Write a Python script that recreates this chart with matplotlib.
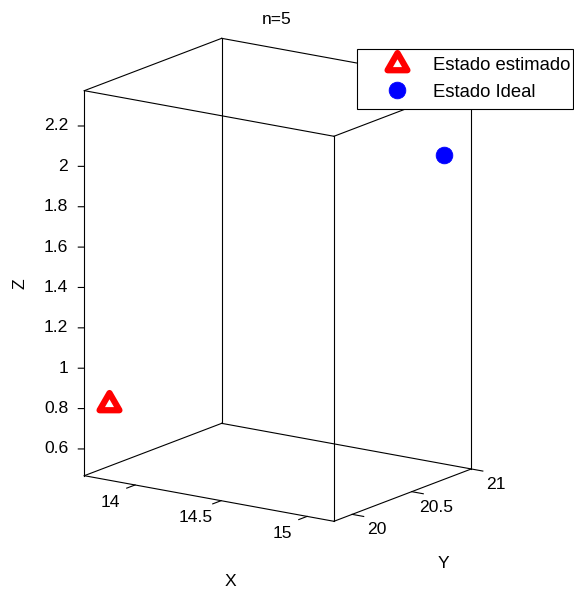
import numpy as np
import matplotlib
matplotlib.use('Agg')
import matplotlib.pyplot as plt
from mpl_toolkits.mplot3d import proj3d
from matplotlib.path import Path
from matplotlib.markers import MarkerStyle

plt.rcParams['font.family'] = ['Liberation Sans', 'DejaVu Sans']

# ---------------- data ----------------
title = 'n=5'
series_names = ['Estado estimado', 'Estado Ideal']
est_x, est_y, est_z = [13.78], [19.95], [0.81]
ideal_x, ideal_y, ideal_z = [15.0], [21.0], [2.0]
xlim = (13.705, 15.156)
ylim = (19.847, 21.0)
zlim = (0.4675, 2.375)
xticks = [14, 14.5, 15]
yticks = [20, 20.5, 21]
zticks = [0.6, 0.8, 1, 1.2, 1.4, 1.6, 1.8, 2, 2.2]
xticklabels = ['14', '14.5', '15']
yticklabels = ['20', '20.5', '21']
zticklabels = ['0.6', '0.8', '1', '1.2', '1.4', '1.6', '1.8', '2', '2.2']
xlabel, ylabel, zlabel = 'X', 'Y', 'Z'

# ---------------- figure ----------------
W, H = 574, 593
fig = plt.figure(figsize=(W / 100, H / 100), dpi=100)
fig.patch.set_facecolor('white')
ax = fig.add_axes([0.1, 0.1, 0.8, 0.8], projection='3d', computed_zorder=False)
ax.set_proj_type('ortho')
ax.view_init(elev=15.3, azim=-55.3)
ax.set_xlim(xlim)
ax.set_ylim(ylim)
ax.set_zlim(zlim)
ax.set_box_aspect((xlim[1] - xlim[0], ylim[1] - ylim[0], zlim[1] - zlim[0]))
ax.set_axis_off()

# --- calibrate the axes placement so the box corners land where the reference has them
corners = np.array([
    [xlim[0], ylim[0], zlim[0]],
    [xlim[0], ylim[0], zlim[1]],
    [xlim[1], ylim[0], zlim[0]],
    [xlim[1], ylim[1], zlim[0]],
    [xlim[0], ylim[1], zlim[0]],
    [xlim[0], ylim[1], zlim[1]],
])
targets_img = np.array([
    [84.3, 475.0], [84.3, 89.0], [333.5, 521.0],
    [470.5, 469.3], [222.3, 425.0], [222.3, 39.0]])
targets = np.column_stack([targets_img[:, 0], H - targets_img[:, 1]])


def proj2d(pts):
    pts = np.atleast_2d(np.asarray(pts, dtype=float))
    xs, ys, _ = proj3d.proj_transform(pts[:, 0], pts[:, 1], pts[:, 2], ax.get_proj())
    return np.column_stack([xs, ys])


for _ in range(3):
    fig.canvas.draw()
    bb = ax.get_window_extent()
    c0 = np.array([bb.x0 + bb.width / 2, bb.y0 + bb.height / 2])
    S0 = bb.width
    u = (ax.transData.transform(proj2d(corners)) - c0) / S0
    n = len(u)
    A = np.zeros((2 * n, 3))
    b = np.zeros(2 * n)
    A[0::2, 0] = 1
    A[0::2, 2] = u[:, 0]
    A[1::2, 1] = 1
    A[1::2, 2] = u[:, 1]
    b[0::2] = targets[:, 0]
    b[1::2] = targets[:, 1]
    cx, cy, S = np.linalg.lstsq(A, b, rcond=None)[0]
    ax.set_position([(cx - S / 2) / W, (cy - S / 2) / H, S / W, S / H])
fig.canvas.draw()

# ---------------- box edges ----------------
lk = dict(color='black', lw=0.8, clip_on=False)
X0, X1 = xlim
Y0, Y1 = ylim
Z0, Z1 = zlim
for z in (Z0, Z1):
    ax.plot([X0, X1], [Y0, Y0], [z, z], **lk)
    ax.plot([X1, X1], [Y0, Y1], [z, z], **lk)
    ax.plot([X1, X0], [Y1, Y1], [z, z], **lk)
    ax.plot([X0, X0], [Y1, Y0], [z, z], **lk)
for x, y in ((X0, Y0), (X1, Y0), (X1, Y1), (X0, Y1)):
    ax.plot([x, x], [y, y], [Z0, Z1], **lk)

# ---------------- ticks ----------------
fs = 12.6


def label_at(x, y, z, s, **kw):
    p = proj2d([[x, y, z]])[0]
    ax.text2D(p[0], p[1], s, transform=ax.transData, fontsize=fs, clip_on=False, **kw)


for t, lab in zip(xticks, xticklabels):
    ax.plot([t, t], [Y0, Y0 - 0.07], [Z0, Z0], **lk)
    label_at(t, Y0 - 0.21, Z0 - 0.038, lab, ha='center', va='center')
for t, lab in zip(yticks, yticklabels):
    ax.plot([X1, X1 + 0.067], [t, t], [Z0, Z0], **lk)
    label_at(X1 + 0.141, t, Z0 - 0.055, lab, ha='center', va='center')
for t, lab in zip(zticks, zticklabels):
    ax.plot([X0, X0 - 0.0236], [Y0, Y0 - 0.0164], [t, t], **lk)
    label_at(X0 - 0.063, Y0 - 0.0437, t, lab, ha='right', va='center')

# ---------------- data markers ----------------
tri = Path([(0, 1), (-0.866, -0.5), (0.866, -0.5), (0, 1)],
           [Path.MOVETO, Path.LINETO, Path.LINETO, Path.CLOSEPOLY])
tri_marker = MarkerStyle(tri, joinstyle='miter')
h_est, = ax.plot(est_x, est_y, est_z, linestyle='none', marker=tri_marker,
                 markersize=16.5, markeredgewidth=4.5, markeredgecolor='#ff0000',
                 markerfacecolor='white', clip_on=False, label=series_names[0])
h_ideal, = ax.plot(ideal_x, ideal_y, ideal_z, linestyle='none', marker='o',
                   markersize=12, markeredgewidth=0.6, markeredgecolor='#0000ff',
                   markerfacecolor='#0000ff', clip_on=False, label=series_names[1])

# ---------------- labels ----------------
fig.text(276.7 / W, 1 - 19 / H, title, ha='center', va='center', fontsize=fs)
fig.text(230.7 / W, 1 - 581.7 / H, xlabel, ha='center', va='center', fontsize=fs)
fig.text(443.3 / W, 1 - 564 / H, ylabel, ha='center', va='center', fontsize=fs)
fig.text(20 / W, 1 - 283.3 / H, zlabel, ha='center', va='center', fontsize=fs, rotation=90)

# ---------------- legend ----------------
leg_l, leg_t, leg_r, leg_b = 356.7, 49.0, 573.3, 109.0
leg = ax.legend(handles=[h_est, h_ideal], labels=series_names, loc='upper left',
                bbox_to_anchor=(leg_l / W, 1 - leg_b / H, (leg_r - leg_l) / W, (leg_b - leg_t) / H),
                bbox_transform=fig.transFigure, mode='expand',
                borderaxespad=0, fancybox=False, edgecolor='black', framealpha=1,
                fontsize=13.3, handlelength=3.46, handletextpad=0.2, borderpad=0.45,
                labelspacing=0.51, numpoints=1)
leg.get_frame().set_linewidth(0.8)

fig.savefig('out.png', dpi=100, facecolor='white')
